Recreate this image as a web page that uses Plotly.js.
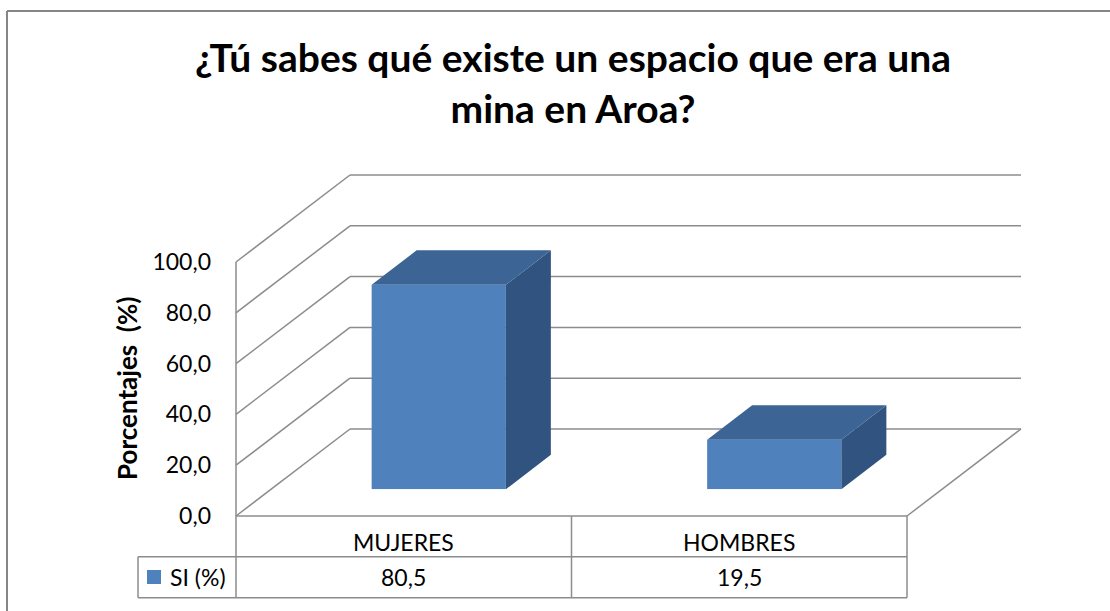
<!DOCTYPE html>
<html>
<head>
<meta charset="utf-8">
<script src="https://cdn.plot.ly/plotly-3.0.1.min.js"></script>
<style>html,body{margin:0;padding:0;background:#fff;overflow:hidden;}#chart{width:1110px;height:611px;}</style>
</head>
<body>
<div id="chart"></div>
<script>
// ---- data ----
const chartTitle = '¿Tú sabes qué existe un espacio que era una<br>mina en Aroa?';
const yAxisTitle = 'Porcentajes  (%)';
const categories = ['MUJERES', 'HOMBRES'];
const seriesName = 'SI (%)';
const values = [80.5, 19.5];
const yTicks = [0, 20, 40, 60, 80, 100];
const yTickText = ['0,0', '20,0', '40,0', '60,0', '80,0', '100,0'];

// ---- geometry / style ----
const W = 1110, H = 611;
const X = p => p / W, Y = p => 1 - p / H;
const FX0 = 236, FX1 = 907, FY0 = 516;      // front floor edge (px)
const PXU = 2.54;                              // px per value unit
const DX = 114, DY = 87;                       // depth of the 3D box (px)
const BOX = 35, BOY = 26.7;                    // offset of bar front plane
const BDX = 45, BDY = 34.5;                    // bar depth (px)
const BAR_W = 0.4;
const GRID = '#8c8c8c';
const FRONT = '#4F81BD', TOP = '#3C6494', SIDE = '#31537F';
const FONT = 'Lato, "Open Sans", sans-serif';

const n = categories.length;
const slotW = (FX1 - FX0) / n;
const dxU = BDX / slotW, dyU = BDY / PXU;
const idx = categories.map((c, i) => i);

const traces = [];
// front faces
traces.push({
  type: 'bar', x: idx, y: values, width: BAR_W, name: seriesName,
  marker: {color: FRONT, line: {width: 0}}, hoverinfo: 'skip', showlegend: false
});
// top and side faces, derived from values
values.forEach((v, i) => {
  const l = i - BAR_W / 2, r = i + BAR_W / 2;
  traces.push({
    type: 'scatter', mode: 'lines', fill: 'toself', fillcolor: SIDE,
    line: {width: 0, color: SIDE}, hoverinfo: 'skip', showlegend: false,
    x: [r, r + dxU, r + dxU, r, r], y: [0, dyU, v + dyU, v, 0]
  });
  traces.push({
    type: 'scatter', mode: 'lines', fill: 'toself', fillcolor: TOP,
    line: {width: 0, color: TOP}, hoverinfo: 'skip', showlegend: false,
    x: [l, r, r + dxU, l + dxU, l], y: [v, v, v + dyU, v + dyU, v]
  });
});
// carrier for the value axis labels (invisible)
traces.push({
  type: 'scatter', mode: 'markers', x: idx, y: values, yaxis: 'y2',
  marker: {opacity: 0}, hoverinfo: 'skip', showlegend: false
});

const shapes = [];
const line = (x0, y0, x1, y1, w, c) => shapes.push({
  type: 'line', xref: 'paper', yref: 'paper', layer: 'below',
  x0: X(x0), y0: Y(y0), x1: X(x1), y1: Y(y1),
  line: {color: c || GRID, width: w || 1.5}
});
const yF = v => FY0 - v * PXU;
const yB = v => FY0 - DY - v * PXU;
const maxT = yTicks[yTicks.length - 1];
// back wall grid + left wall diagonals
yTicks.forEach(v => {
  line(FX0 + DX, yB(v), FX1 + DX, yB(v));
  line(FX0, yF(v), FX0 + DX, yB(v));
});
// left wall front edge
line(FX0, yF(maxT), FX0, yF(0));
// floor right edge
line(FX1, FY0, FX1 + DX, FY0 - DY);
// data table
const TR1 = 556.7, TR2 = 597.7, TL = 138;
line(FX0, FY0, FX1, FY0);
line(TL, TR1, FX1, TR1);
line(TL, TR2, FX1, TR2);
line(TL, TR1, TL, TR2);
for (let i = 0; i <= n; i++) line(FX0 + slotW * i, FY0, FX0 + slotW * i, TR2);
// legend key
shapes.push({type: 'rect', xref: 'paper', yref: 'paper', x0: X(147), x1: X(161), y0: Y(570), y1: Y(584),
  fillcolor: FRONT, line: {width: 0}});
// outer border (top and left edges visible)
shapes.push({type: 'line', xref: 'paper', yref: 'paper', x0: X(7), y0: Y(11), x1: 1, y1: Y(11),
  line: {color: '#868686', width: 2}});
shapes.push({type: 'line', xref: 'paper', yref: 'paper', x0: X(7), y0: Y(11), x1: X(7), y1: 0,
  line: {color: '#868686', width: 2}});

const annotations = [];
const fmt = v => v.toFixed(1).replace('.', ',');
categories.forEach((c, i) => {
  const cx = X(FX0 + slotW * (i + 0.5));
  annotations.push({xref: 'paper', yref: 'paper', x: cx, y: Y(542), text: c, showarrow: false,
    xanchor: 'center', yanchor: 'middle', font: {family: FONT, size: 23, color: '#000'}});
  annotations.push({xref: 'paper', yref: 'paper', x: cx, y: Y(577), text: fmt(values[i]), showarrow: false,
    xanchor: 'center', yanchor: 'middle', font: {family: FONT, size: 23, color: '#000'}});
});
annotations.push({xref: 'paper', yref: 'paper', x: X(168), y: Y(577), text: seriesName, showarrow: false,
  xanchor: 'left', yanchor: 'middle', font: {family: FONT, size: 23, color: '#000'}});
annotations.push({xref: 'paper', yref: 'paper', x: X(127), y: Y(389), text: yAxisTitle, showarrow: false,
  textangle: -90, xanchor: 'center', yanchor: 'middle', font: {family: FONT, size: 26, color: '#000', weight: 'bold'}});

const layout = {
  width: W, height: H,
  margin: {l: 0, r: 0, t: 0, b: 0},
  paper_bgcolor: '#fff', plot_bgcolor: 'rgba(0,0,0,0)',
  showlegend: false,
  title: {text: chartTitle, x: X(573), xanchor: 'center', y: Y(72), yanchor: 'middle', yref: 'container',
    font: {family: FONT, size: 39, color: '#000', weight: 'bold'}},
  xaxis: {domain: [X(FX0 + BOX), X(FX1 + BOX)], range: [-0.5, n - 0.5], visible: false, fixedrange: true},
  yaxis: {domain: [Y(FY0 - BOY), Y(FY0 - BOY - 120 * PXU)], range: [0, 120], visible: false, fixedrange: true},
  yaxis2: {domain: [Y(yF(0)), Y(yF(maxT))], range: [0, maxT], anchor: 'free', position: X(211), side: 'left',
    tickvals: yTicks, ticktext: yTickText, ticks: '', showline: false, showgrid: false, zeroline: false,
    tickfont: {family: FONT, size: 23, color: '#000'}, fixedrange: true},
  shapes: shapes,
  annotations: annotations
};

Plotly.newPlot('chart', traces, layout, {displayModeBar: false, staticPlot: true});
</script>
</body>
</html>
